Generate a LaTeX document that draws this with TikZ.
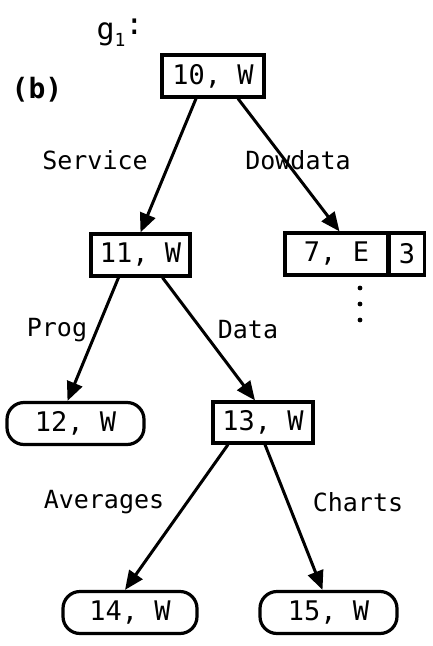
\documentclass[tikz,border=0pt]{standalone}
\usepackage{fontspec}
\setmainfont{DejaVu Sans Mono}
\usetikzlibrary{arrows.meta}
\begin{document}
\begin{tikzpicture}[x=1pt,y=-1pt,
  every node/.style={font=\fontsize{25}{28}\selectfont},
  sq/.style={draw,line width=3.2pt,inner sep=0pt,minimum height=42pt,font=\fontsize{27}{30}\selectfont},
  rd/.style={draw,line width=3.2pt,inner sep=0pt,minimum height=42pt,rounded corners=17pt,font=\fontsize{27}{30}\selectfont},
  lbl/.style={inner sep=0pt},
  edge/.style={line width=3pt,-{Triangle[length=19pt,width=16pt]}}]
\useasboundingbox (0,0) rectangle (433,646);
\node[lbl] (g) at (120,33) {\fontsize{30}{32}\selectfont g\raisebox{-0.45ex}{\fontsize{18}{19}\selectfont 1}\raisebox{0.3ex}{:}};
\node[lbl,font=\fontsize{28}{30}\selectfont\bfseries] (b) at (37,90) {(b)};
\node[sq,minimum width=102pt] (r) at (213,76) {10, W};
\node[sq,minimum width=99pt] (n11) at (140.5,255) {11, W};
\node[sq,minimum width=103pt] (n7) at (336.5,254) {7, E};
\node[sq,minimum width=35pt,anchor=west] (n7b) at ([xshift=-1.6pt]n7.east) {3};
\node[rd,minimum width=137pt] (n12) at (75.5,423.5) {12, W};
\node[sq,minimum width=100pt,minimum height=41pt] (n13) at (263,422.5) {13, W};
\node[rd,minimum width=134pt] (n14) at (130,612.5) {14, W};
\node[rd,minimum width=137pt] (n15) at (328.5,612.5) {15, W};
\node[lbl] (ls) at (95,160) {Service};
\node[lbl] (ld) at (298,160) {Dowdata};
\node[lbl] (lp) at (57,330) {Prog};
\node[lbl] (lda) at (248,330) {Data};
\node[lbl] (la) at (104,502) {Averages};
\node[lbl] (lc) at (358,502) {Charts};
\fill (360,288) circle (2.4pt);
\fill (360,304) circle (2.4pt);
\fill (360,320) circle (2.4pt);
\draw[edge] ([xshift=-17pt]r.south) -- (n11.north);
\draw[edge] ([xshift=25pt]r.south) -- ([xshift=3pt]n7.north);
\draw[edge] ([xshift=-22pt]n11.south) -- ([xshift=-8pt]n12.north);
\draw[edge] ([xshift=22pt]n11.south) -- ([xshift=-8pt]n13.north);
\draw[edge] ([xshift=-35pt]n13.south) -- ([xshift=-5pt]n14.north);
\draw[edge] ([xshift=2pt]n13.south) -- ([xshift=-6pt]n15.north);
\end{tikzpicture}
\end{document}
